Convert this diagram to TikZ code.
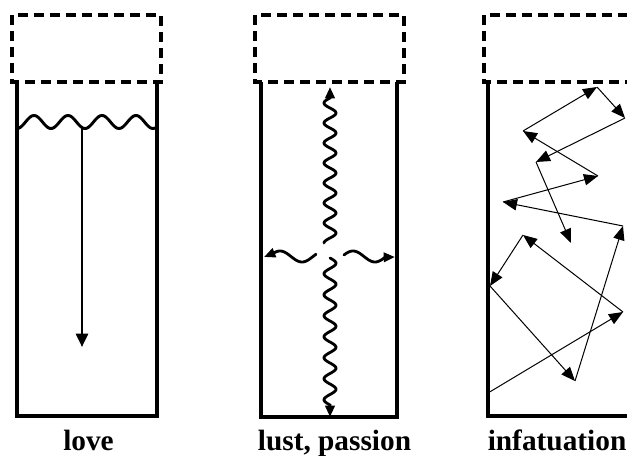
\documentclass[tikz,border=0pt]{standalone}
\usepackage{fontspec}
\setmainfont{Liberation Serif}
\usetikzlibrary{arrows.meta}
\tikzset{
  lidbox/.style={draw=black, line width=2.5pt, dash pattern=on 7.5pt off 4.5pt},
  wallline/.style={draw=black, line width=2.3pt},
  lovearrow/.style={line width=2pt, -{Triangle[length=10pt,width=9pt]}},
  wavyarrow/.style={line width=2.1pt, line cap=round, -{Triangle[length=8.5pt,width=7pt]}},
  ballarrow/.style={line width=0.75pt, -{Triangle[length=10.5pt,width=8.5pt]}},
  caption/.style={font=\bfseries\fontsize{22}{26}\selectfont, anchor=base, inner sep=0pt}
}
\begin{document}
\begin{tikzpicture}[x=0.75pt,y=-0.75pt]
\useasboundingbox (0,0) rectangle (627,456);

% ---------- love ----------
\draw[lidbox] (12,15) rectangle (161,82);
\draw[wallline] (17,82) -- (17,416) -- (157,416) -- (157,82);
\draw[line width=2.2pt] plot[domain=17:157, samples=120] (\x, {122 + 6.5*cos(((\x-17)/34)*360)});
\coordinate (lovetop) at (82,127.5);
\coordinate (lovebot) at (82,347);
\draw[lovearrow] (lovetop) -- (lovebot);
\node[caption] (love) at (88.5,450) {love};

% ---------- lust, passion ----------
\draw[lidbox] (255,15) rectangle (404,82);
\draw[wallline] (261,82) -- (261,417) -- (397,417) -- (397,82);
\coordinate (uptip) at (330,87);
\coordinate (downtip) at (330,417);
\coordinate (lefttip) at (264,257);
\coordinate (righttip) at (395,257);
\draw[wavyarrow] plot[domain=243:98, samples=160] ({330 - 6*cos(((243-\x)/20)*360)}, \x) -- (uptip);
\draw[wavyarrow] plot[domain=258:405, samples=160] ({330 + 6*sin(((\x-258)/21)*360)}, \x) -- (downtip);
\draw[wavyarrow] plot[domain=316:274, samples=60] (\x, {256.5 - 5.5*cos(((\x-280)/44)*360)}) -- (lefttip);
\draw[wavyarrow] plot[domain=344:385, samples=60] (\x, {256.5 - 5.5*cos(((\x-353)/44)*360)}) -- (righttip);
\node[caption] (lust) at (334.5,450) {lust, passion};

% ---------- infatuation ----------
\draw[lidbox] (660,15) -- (484,15) -- (484,82) -- (660,82);
\draw[wallline] (488,82) -- (488,416) -- (629,416) -- (629,82);
\coordinate (b1) at (488,393);
\coordinate (b2) at (623,312);
\coordinate (b3) at (523,235);
\coordinate (b4) at (490,286);
\coordinate (b5) at (575,381);
\coordinate (b6) at (623,226);
\coordinate (b7) at (503,202);
\coordinate (b8) at (598,176);
\coordinate (b9) at (523,131);
\coordinate (b10) at (597,87);
\coordinate (b11) at (625,118);
\coordinate (b12) at (536,162);
\coordinate (b13) at (571,243);
\draw[ballarrow] (b1) -- (b2);
\draw[ballarrow] (b2) -- (b3);
\draw[ballarrow] (b3) -- (b4);
\draw[ballarrow] (b4) -- (b5);
\draw[ballarrow] (b5) -- (b6);
\draw[ballarrow] (b6) -- (b7);
\draw[ballarrow] (b7) -- (b8);
\draw[ballarrow] (b8) -- (b9);
\draw[ballarrow] (b9) -- (b10);
\draw[ballarrow] (b10) -- (b11);
\draw[ballarrow] (b11) -- (b12);
\draw[ballarrow] (b12) -- (b13);
\node[caption, anchor=base west] (infat) at (487.5,450) {infatuation};
\end{tikzpicture}
\end{document}
